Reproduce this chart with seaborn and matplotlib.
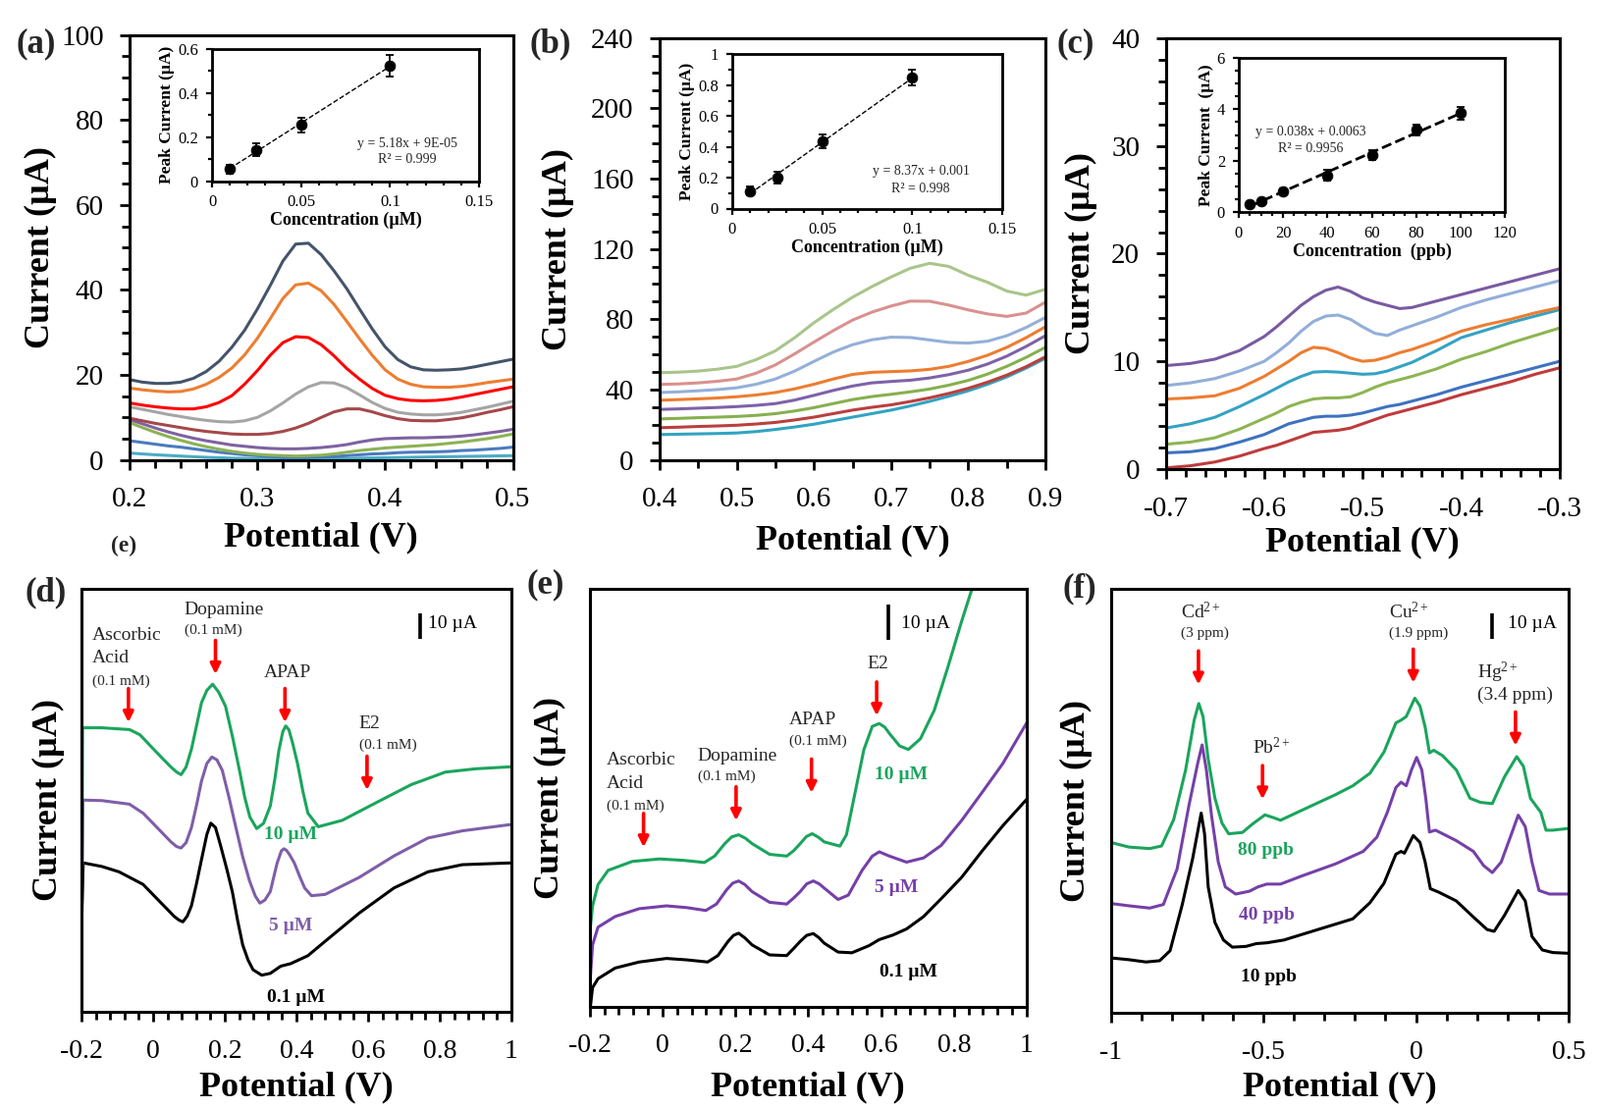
import numpy as np
import pandas as pd
import matplotlib
matplotlib.use("Agg")
import matplotlib.pyplot as plt
import seaborn as sns
from matplotlib.ticker import MultipleLocator, FuncFormatter, NullLocator

sns.set_theme(style="ticks")
plt.rcParams['font.family'] = ['Liberation Serif', 'DejaVu Serif']
plt.rcParams['mathtext.fontset'] = 'custom'
plt.rcParams['mathtext.rm'] = 'Liberation Serif'
plt.rcParams['mathtext.it'] = 'Liberation Serif:italic'
plt.rcParams['mathtext.bf'] = 'Liberation Serif:bold'
plt.rcParams['axes.unicode_minus'] = False

# ---------------- Panel (a) data ----------------
a_V = [0.20, 0.21, 0.22, 0.23, 0.24, 0.25, 0.26, 0.27, 0.28, 0.29, 0.30, 0.31, 0.32, 0.33, 0.34, 0.35,
       0.36, 0.37, 0.38, 0.39, 0.40, 0.41, 0.42, 0.43, 0.44, 0.45, 0.46, 0.47, 0.48, 0.49, 0.50]
a_c1 = [18.9, 18.3, 18.0, 18.0, 18.3, 19.2, 20.8, 23.2, 26.5, 30.5, 35.5, 41.0, 46.8, 50.8, 51.0, 48.3,
        44.5, 40.3, 35.5, 30.8, 26.6, 23.6, 21.9, 21.2, 21.1, 21.2, 21.4, 21.9, 22.5, 23.1, 23.7]
a_c2 = [16.9, 16.5, 16.2, 16.0, 16.1, 16.7, 17.8, 19.4, 21.6, 24.7, 28.6, 33.2, 38.0, 41.2, 41.6, 39.8,
        36.6, 32.6, 28.5, 24.6, 21.2, 19.0, 17.8, 17.2, 17.1, 17.1, 17.3, 17.7, 18.2, 18.6, 19.0]
a_c3 = [13.4, 12.9, 12.5, 12.2, 12.0, 12.0, 12.5, 13.5, 15.1, 17.8, 21.0, 24.6, 27.6, 29.0, 28.8, 27.1,
        24.5, 21.5, 19.0, 16.8, 15.2, 14.4, 14.0, 13.9, 14.0, 14.3, 14.8, 15.4, 16.0, 16.6, 17.2]
a_c4 = [12.5, 11.9, 11.3, 10.7, 10.2, 9.7, 9.3, 9.0, 8.9, 9.2, 10.0, 11.5, 13.4, 15.5, 17.2, 18.2,
        18.1, 17.0, 15.3, 13.5, 12.1, 11.2, 10.8, 10.6, 10.6, 10.8, 11.2, 11.8, 12.4, 13.1, 13.8]
a_c5 = [9.8, 9.2, 8.6, 8.1, 7.6, 7.1, 6.7, 6.4, 6.1, 6.0, 6.0, 6.2, 6.7, 7.5, 8.6, 10.0,
        11.3, 12.0, 12.0, 11.3, 10.4, 9.7, 9.3, 9.2, 9.2, 9.5, 9.9, 10.5, 11.2, 11.8, 12.5]
a_c6 = [9.5, 8.5, 7.5, 6.6, 5.8, 5.1, 4.5, 4.0, 3.5, 3.2, 2.9, 2.7, 2.6, 2.6, 2.7, 2.9,
        3.2, 3.6, 4.2, 4.7, 5.0, 5.1, 5.2, 5.2, 5.3, 5.4, 5.6, 5.9, 6.3, 6.7, 7.2]
a_c7 = [8.8, 7.6, 6.5, 5.5, 4.6, 3.8, 3.1, 2.5, 2.0, 1.6, 1.3, 1.1, 1.0, 0.9, 1.0, 1.1,
        1.4, 1.8, 2.2, 2.5, 2.8, 3.0, 3.2, 3.4, 3.6, 3.9, 4.2, 4.6, 5.0, 5.5, 6.1]
a_c8 = [4.5, 4.1, 3.7, 3.3, 3.0, 2.6, 2.2, 1.8, 1.5, 1.2, 1.0, 0.8, 0.6, 0.6, 0.6, 0.7,
        0.8, 1.0, 1.2, 1.4, 1.5, 1.7, 1.8, 1.85, 1.9, 2.0, 2.2, 2.3, 2.5, 2.7, 3.0]
a_c9 = [1.6, 1.4, 1.2, 1.05, 0.9, 0.75, 0.6, 0.5, 0.4, 0.35, 0.3, 0.3, 0.3, 0.3, 0.3, 0.3,
        0.3, 0.3, 0.4, 0.45, 0.5, 0.55, 0.6, 0.65, 0.7, 0.75, 0.8, 0.85, 0.9, 0.95, 1.0]
a_curves = [a_c1, a_c2, a_c3, a_c4, a_c5, a_c6, a_c7, a_c8, a_c9]
a_colors = ['#44546A', '#ED7D31', '#FF0000', '#A5A5A5', '#A5484B', '#7E62A1', '#8DB255', '#4A7CC0', '#4BACC6']

a_conc = [0.01, 0.025, 0.05, 0.1]
a_peak = [0.056, 0.143, 0.255, 0.524]
a_err = [0.02, 0.03, 0.035, 0.05]

# ---------------- Panel (b) data ----------------
b_V = [0.40, 0.425, 0.45, 0.475, 0.50, 0.525, 0.55, 0.575, 0.60, 0.625, 0.65, 0.675, 0.70,
       0.725, 0.75, 0.775, 0.80, 0.825, 0.85, 0.875, 0.90]
b_c1 = [49.6, 49.9, 50.5, 51.6, 53.2, 57.0, 62.0, 69.5, 78.0, 85.5, 92.5, 98.5, 104.0,
        109.0, 111.8, 110.0, 105.0, 101.0, 96.0, 93.7, 97.0]
b_c2 = [42.9, 43.2, 43.8, 44.7, 46.0, 49.3, 54.0, 60.3, 67.0, 73.5, 79.5, 84.0, 87.5,
        90.3, 90.2, 88.0, 85.3, 83.0, 81.6, 83.5, 89.7]
b_c3 = [38.3, 38.7, 39.3, 40.0, 41.0, 43.0, 46.0, 50.5, 56.0, 61.3, 65.5, 68.3, 69.8,
        69.6, 68.2, 66.8, 66.4, 67.5, 70.6, 75.3, 81.0]
b_c4 = [33.9, 34.3, 34.7, 35.2, 35.9, 36.9, 38.3, 40.4, 43.0, 46.0, 48.6, 49.8, 50.2,
        50.6, 51.5, 53.2, 56.0, 59.5, 64.0, 69.5, 75.7]
b_c5 = [28.7, 29.0, 29.4, 29.8, 30.3, 31.0, 32.0, 34.0, 36.7, 39.5, 42.0, 43.8, 44.6,
        45.3, 46.6, 48.5, 51.0, 54.5, 59.0, 64.5, 70.6]
b_c6 = [23.3, 23.6, 24.0, 24.3, 24.7, 25.3, 26.3, 27.8, 29.7, 32.0, 34.3, 36.0, 37.3,
        38.7, 40.3, 42.5, 45.2, 48.8, 53.2, 58.3, 64.0]
b_c7 = [18.3, 18.6, 19.0, 19.3, 19.7, 20.4, 21.3, 22.7, 24.3, 26.3, 28.3, 29.9, 31.3,
        33.2, 35.3, 37.8, 40.7, 44.2, 48.2, 53.0, 58.6]
b_c8 = [14.4, 14.6, 14.8, 15.0, 15.3, 16.1, 17.3, 18.7, 20.3, 22.3, 24.3, 26.3, 28.3,
        30.7, 33.3, 36.2, 39.3, 43.0, 47.2, 52.2, 57.8]
b_curves = [b_c1, b_c2, b_c3, b_c4, b_c5, b_c6, b_c7, b_c8]
b_colors = ['#A9C58A', '#D9918F', '#94B0D8', '#ED7D31', '#7E62A8', '#86B04F', '#B9403E', '#32A3C2']

b_conc = [0.01, 0.025, 0.05, 0.1]
b_peak = [0.114, 0.200, 0.436, 0.848]
b_err = [0.03, 0.04, 0.045, 0.05]

# ---------------- Panel (c) data ----------------
c_V = [-0.70, -0.675, -0.65, -0.625, -0.60, -0.5875, -0.575, -0.5625, -0.55, -0.5375, -0.525, -0.5125,
       -0.50, -0.4875, -0.475, -0.4625, -0.45, -0.425, -0.40, -0.375, -0.35, -0.325, -0.30]
c_c1 = [9.6, 9.8, 10.2, 11.0, 12.3, 13.2, 14.2, 15.2, 16.0, 16.6, 16.9, 16.5,
        15.9, 15.5, 15.2, 14.9, 15.0, 15.6, 16.2, 16.8, 17.4, 18.0, 18.6]
c_c2 = [7.75, 8.0, 8.4, 9.1, 10.0, 10.8, 11.7, 12.8, 13.7, 14.2, 14.3, 13.9,
        13.2, 12.6, 12.4, 12.9, 13.3, 14.1, 15.0, 15.7, 16.3, 16.9, 17.5]
c_c3 = [6.5, 6.6, 6.8, 7.5, 8.6, 9.3, 10.0, 10.8, 11.3, 11.2, 10.8, 10.3,
        10.0, 10.1, 10.4, 10.8, 11.1, 11.9, 12.8, 13.4, 13.9, 14.5, 15.0]
c_c4 = [3.8, 4.2, 4.8, 5.8, 6.9, 7.5, 8.1, 8.6, 9.0, 9.05, 9.0, 8.9,
        8.8, 8.85, 9.1, 9.5, 9.9, 11.0, 12.2, 12.9, 13.6, 14.2, 14.8]
c_c5 = [2.3, 2.5, 2.9, 3.7, 4.7, 5.2, 5.8, 6.2, 6.5, 6.6, 6.6, 6.7,
        7.1, 7.6, 8.0, 8.3, 8.6, 9.3, 10.2, 10.9, 11.7, 12.4, 13.1]
c_c6 = [1.5, 1.6, 1.9, 2.5, 3.2, 3.7, 4.2, 4.5, 4.8, 4.9, 4.9, 5.0,
        5.2, 5.5, 5.8, 6.0, 6.3, 6.9, 7.6, 8.2, 8.8, 9.4, 10.0]
c_c7 = [0.1, 0.3, 0.65, 1.2, 1.9, 2.2, 2.6, 3.0, 3.4, 3.5, 3.6, 3.8,
        4.2, 4.6, 5.0, 5.3, 5.6, 6.2, 6.9, 7.5, 8.1, 8.8, 9.4]
c_curves = [c_c1, c_c2, c_c3, c_c4, c_c5, c_c6, c_c7]
c_colors = ['#7A5AA2', '#92AEDA', '#ED7D31', '#35A2C3', '#8DB552', '#3E72BF', '#BE3B3D']

c_conc = [5, 10, 20, 40, 60, 80, 100]
c_peak = [0.30, 0.41, 0.82, 1.43, 2.21, 3.20, 3.85]
c_err = [0.05, 0.06, 0.10, 0.20, 0.20, 0.22, 0.25]

# ---------------- Panel (d) data ----------------
d_green_V = [-0.199, -0.197, -0.143, -0.066, -0.037, 0.001, 0.030, 0.049, 0.065, 0.078, 0.092, 0.107, 0.121, 0.135, 0.150,
             0.166, 0.183, 0.202, 0.222, 0.241, 0.256, 0.270, 0.289, 0.308, 0.327, 0.340, 0.351, 0.362, 0.370, 0.379,
             0.389, 0.403, 0.418, 0.432, 0.461, 0.528, 0.624, 0.720, 0.815, 0.90, 1.0]
d_green_I = [38.6, 110.8, 110.8, 110.1, 108.1, 102.5, 98.3, 95.6, 93.6, 92.5, 95.5, 102.5, 111.5, 120.6, 125.4,
             127.8, 124.7, 119.2, 107.0, 94.2, 83.5, 76.0, 71.5, 73.5, 80.3, 91.0, 102.0, 109.3, 111.5, 110.0,
             105.0, 96.9, 86.0, 77.5, 72.2, 74.7, 81.7, 88.6, 93.5, 94.8, 95.6]
d_purple_V = [-0.199, -0.196, -0.143, -0.066, -0.028, 0.011, 0.049, 0.065, 0.078, 0.092, 0.107, 0.121, 0.135, 0.150, 0.164,
              0.178, 0.193, 0.212, 0.231, 0.250, 0.269, 0.285, 0.298, 0.312, 0.327, 0.346, 0.358, 0.365, 0.372, 0.380,
              0.394, 0.410, 0.423, 0.442, 0.480, 0.576, 0.672, 0.767, 0.863, 1.0]
d_purple_I = [37.2, 82.6, 82.4, 81.0, 77.5, 71.9, 66.4, 64.5, 63.9, 66.0, 71.9, 80.5, 90.0, 96.9, 99.4,
              98.3, 94.2, 83.5, 71.9, 60.5, 51.1, 45.2, 42.4, 43.6, 46.9, 58.0, 62.8, 63.6, 63.0, 61.5,
              58.1, 52.5, 48.3, 45.3, 45.8, 52.5, 60.8, 67.8, 70.6, 73.1]
d_black_V = [-0.199, -0.195, -0.143, -0.095, -0.028, 0.020, 0.059, 0.072, 0.083, 0.095, 0.107, 0.121, 0.135, 0.150, 0.161,
             0.174, 0.188, 0.205, 0.221, 0.236, 0.250, 0.265, 0.279, 0.303, 0.327, 0.356, 0.384, 0.432, 0.480, 0.576,
             0.672, 0.767, 0.863, 1.0]
d_black_I = [37.2, 58.1, 56.7, 54.6, 49.7, 42.8, 37.2, 35.8, 35.1, 37.3, 41.4, 50.0, 59.4, 69.2, 73.6,
             71.9, 65.0, 56.0, 46.9, 35.5, 26.1, 20.2, 16.4, 14.3, 15.0, 17.8, 18.8, 21.9, 27.5, 38.6,
             48.3, 54.6, 57.4, 58.1]

# ---------------- Panel (e) data ----------------
e_green_V = [-0.198, -0.192, -0.177, -0.149, -0.083, -0.008, 0.058, 0.115, 0.143, 0.171, 0.190, 0.209, 0.228, 0.246, 0.294,
             0.341, 0.360, 0.378, 0.395, 0.411, 0.428, 0.444, 0.487, 0.505, 0.529, 0.553, 0.576, 0.595, 0.610, 0.623,
             0.651, 0.675, 0.708, 0.746, 0.783, 0.821, 0.849, 0.878]
e_green_I = [22.3, 28.3, 34.3, 38.3, 40.8, 41.5, 41.1, 40.5, 42.3, 45.8, 47.7, 48.3, 47.3, 45.8, 42.8,
             42.3, 43.8, 45.8, 47.8, 48.6, 47.6, 46.3, 45.1, 48.3, 60.3, 72.3, 78.8, 79.6, 78.6, 76.8,
             73.3, 72.3, 75.3, 83.3, 95.3, 108.3, 117.3, 129.3]
e_purple_V = [-0.198, -0.192, -0.177, -0.130, -0.064, 0.011, 0.067, 0.119, 0.148, 0.176, 0.193, 0.209, 0.226, 0.246, 0.294,
              0.341, 0.360, 0.378, 0.396, 0.414, 0.430, 0.444, 0.482, 0.510, 0.548, 0.576, 0.595, 0.623, 0.670, 0.717,
              0.765, 0.821, 0.878, 0.934, 1.0]
e_purple_I = [8.3, 17.3, 22.3, 25.3, 27.5, 28.3, 27.8, 27.0, 28.8, 32.8, 34.7, 35.3, 34.3, 32.3, 29.3,
              28.8, 30.5, 32.3, 34.5, 35.3, 34.5, 33.3, 30.1, 31.3, 38.3, 42.3, 43.5, 42.3, 40.6, 41.8,
              45.3, 52.3, 60.3, 68.3, 79.8]
e_black_V = [-0.198, -0.192, -0.177, -0.130, -0.064, 0.011, 0.067, 0.124, 0.152, 0.180, 0.195, 0.209, 0.226, 0.246, 0.294,
             0.341, 0.360, 0.378, 0.396, 0.414, 0.430, 0.444, 0.482, 0.520, 0.567, 0.595, 0.633, 0.670, 0.717, 0.765,
             0.821, 0.878, 0.934, 1.0]
e_black_I = [0.0, 5.3, 7.8, 10.8, 12.5, 13.5, 13.1, 12.5, 14.3, 18.3, 20.0, 20.6, 19.3, 17.3, 14.5,
             14.3, 16.3, 18.3, 20.0, 20.5, 19.3, 17.8, 15.3, 15.1, 17.1, 18.8, 20.1, 21.8, 25.3, 30.3,
             36.3, 43.8, 50.8, 58.3]

# ---------------- Panel (f) data ----------------
f_green_V = [-1.0, -0.941, -0.873, -0.834, -0.794, -0.755, -0.727, -0.712, -0.698, -0.681, -0.659, -0.636, -0.614, -0.569, -0.535,
             -0.495, -0.467, -0.444, -0.376, -0.264, -0.207, -0.151, -0.105, -0.066, -0.049, -0.032, -0.004, 0.013, 0.030,
             0.044, 0.058, 0.087, 0.132, 0.177, 0.211, 0.250, 0.290, 0.330, 0.352, 0.375, 0.409, 0.426, 0.448, 0.5]
f_green_I = [66.7, 64.9, 64.3, 65.3, 75.7, 95.1, 114.6, 121.1, 116.0, 99.3, 84.0, 74.3, 70.1, 70.6, 74.0,
             77.5, 76.4, 75.4, 79.2, 85.4, 88.9, 93.8, 102.1, 113.5, 114.6, 116.0, 123.2, 120.1, 111.8,
             101.8, 102.8, 100.7, 95.1, 84.0, 82.4, 81.9, 92.4, 100.3, 96.5, 84.0, 78.5, 71.5, 71.5, 72.2]
f_purple_V = [-1.0, -0.941, -0.873, -0.828, -0.783, -0.744, -0.715, -0.701, -0.687, -0.670, -0.648, -0.625, -0.591, -0.546, -0.518,
              -0.489, -0.444, -0.376, -0.264, -0.173, -0.128, -0.094, -0.066, -0.049, -0.032, -0.015, 0.002, 0.019, 0.032,
              0.044, 0.064, 0.132, 0.188, 0.222, 0.250, 0.279, 0.313, 0.335, 0.358, 0.380, 0.403, 0.437, 0.5]
f_purple_I = [42.8, 41.9, 41.0, 42.4, 56.3, 81.3, 97.9, 104.9, 95.1, 77.1, 59.0, 49.3, 46.5, 47.6, 49.3,
              50.4, 50.4, 53.5, 58.3, 63.2, 68.8, 78.5, 88.2, 90.3, 88.9, 95.1, 100.0, 95.1, 84.0,
              70.8, 71.5, 67.4, 63.2, 57.6, 54.9, 59.0, 70.1, 77.4, 72.9, 59.0, 47.9, 46.5, 46.5]
f_black_V = [-1.0, -0.941, -0.885, -0.840, -0.806, -0.766, -0.732, -0.704, -0.693, -0.681, -0.659, -0.631, -0.602, -0.557, -0.523,
             -0.489, -0.433, -0.376, -0.264, -0.207, -0.151, -0.105, -0.066, -0.049, -0.038, -0.009, 0.013, 0.030, 0.047,
             0.075, 0.132, 0.188, 0.233, 0.256, 0.290, 0.335, 0.358, 0.380, 0.414, 0.448, 0.5]
f_black_I = [21.5, 20.8, 19.9, 20.4, 24.3, 42.4, 60.4, 78.2, 70.1, 49.3, 35.4, 28.5, 25.7, 26.0, 27.1,
             27.4, 28.5, 30.6, 34.7, 36.8, 43.1, 50.7, 62.1, 63.2, 62.5, 69.4, 66.7, 59.0, 48.6,
             47.2, 43.8, 37.5, 32.6, 31.9, 38.2, 47.9, 43.8, 29.9, 24.6, 23.6, 23.3]

GREEN = '#1AA55C'
PURPLE_D = '#7E5EA9'
PURPLE = '#7540A8'
RED = '#FF0000'

W, H = 1630, 1129
fig = plt.figure(figsize=(W / 100, H / 100), dpi=100)


def frac(x0, y0, x1, y1):
    return [x0 / W, 1 - y1 / H, (x1 - x0) / W, (y1 - y0) / H]


fmt = FuncFormatter(lambda v, p: '0' if abs(v) < 1e-9 else f'{round(v, 4):g}')


def curve(ax, x, y, color, lw=2.2):
    df = pd.DataFrame({'V': x, 'I': y})
    sns.lineplot(data=df, x='V', y='I', ax=ax, color=color, linewidth=lw,
                 sort=False, estimator=None, legend=False)


def style_main(ax, xlim, ylim, xmaj, xmin, ymaj=None, ymin=None, fs=21):
    ax.set_xlim(*xlim)
    ax.set_ylim(*ylim)
    for s in ['top', 'right', 'left', 'bottom']:
        ax.spines[s].set_linewidth(2.2)
        ax.spines[s].set_color('black')
    ax.xaxis.set_major_locator(MultipleLocator(xmaj))
    ax.xaxis.set_minor_locator(MultipleLocator(xmin))
    ax.xaxis.set_major_formatter(fmt)
    if ymaj is not None:
        ax.yaxis.set_major_locator(MultipleLocator(ymaj))
        ax.yaxis.set_minor_locator(MultipleLocator(ymin))
        ax.yaxis.set_major_formatter(fmt)
    else:
        ax.yaxis.set_major_locator(NullLocator())
        ax.yaxis.set_minor_locator(NullLocator())
    ax.tick_params(which='major', direction='out', length=7, width=2, labelsize=fs, pad=12,
                   color='black', labelcolor='black')
    ax.tick_params(which='minor', direction='out', length=6, width=2, color='black')
    ax.tick_params(axis='x', pad=13)
    ax.set_facecolor('white')


def labels(ax, ycoord, xcoord):
    ax.set_xlabel('Potential (V)', fontsize=26, fontweight='bold', color='black')
    ax.set_ylabel('Current (µA)', fontsize=26, fontweight='bold', color='black')
    ax.xaxis.set_label_coords(0.5, xcoord)
    ax.yaxis.set_label_coords(ycoord, 0.5)


def style_inset(ax, xlim, ylim, xmaj, xmin, ymaj, ymin, xlabel, ylabel):
    ax.set_xlim(*xlim)
    ax.set_ylim(*ylim)
    for s in ['top', 'right', 'left', 'bottom']:
        ax.spines[s].set_linewidth(2.0)
        ax.spines[s].set_color('black')
    ax.xaxis.set_major_locator(MultipleLocator(xmaj))
    ax.xaxis.set_minor_locator(MultipleLocator(xmin))
    ax.yaxis.set_major_locator(MultipleLocator(ymaj))
    ax.yaxis.set_minor_locator(MultipleLocator(ymin))
    ax.xaxis.set_major_formatter(fmt)
    ax.yaxis.set_major_formatter(fmt)
    ax.tick_params(which='both', direction='out', width=1.6, color='black', labelcolor='black')
    ax.tick_params(which='major', length=4, labelsize=12, pad=6)
    ax.tick_params(which='minor', length=3)
    ax.set_xlabel(xlabel, fontsize=13, fontweight='bold', labelpad=1, color='black')
    ax.set_ylabel(ylabel, fontsize=12.5, fontweight='bold', labelpad=2, color='black')
    ax.set_facecolor('white')


def inset_data(ax, conc, peak, err, lw):
    sns.regplot(x=np.array(conc, float), y=np.array(peak, float), ax=ax, scatter=False, ci=None,
                truncate=True, line_kws=dict(color='black', ls='--', lw=lw))
    ax.errorbar(conc, peak, yerr=err, fmt='none', ecolor='black', elinewidth=1.3, capsize=3, capthick=1.3)
    sns.scatterplot(x=conc, y=peak, ax=ax, color='black', s=60, edgecolor='black', zorder=4, legend=False)


def arrow(ax, x, y0, y1):
    ax.annotate('', xy=(x, y1), xytext=(x, y0),
                arrowprops=dict(arrowstyle='-|>', color=RED, lw=2.6, mutation_scale=15,
                                shrinkA=0, shrinkB=0))


def scalebar(ax, x, y0, y1, tx, ty):
    ax.plot([x, x], [y0, y1], color='black', lw=2.6, solid_capstyle='butt')
    ax.text(tx, ty, '10 µA', fontsize=14, ha='left', va='center', color='black')


# ================= (a) =================
ax = fig.add_axes(frac(132, 35.7, 522.5, 468.6))
for yv, col in zip(a_curves[::-1], a_colors[::-1]):
    curve(ax, a_V, yv, col)
style_main(ax, (0.2, 0.5), (0, 100), 0.1, 0.02, 20, 5)
labels(ax, -0.19, -0.146)
ins = fig.add_axes(frac(216, 50, 488, 184.6))
style_inset(ins, (0, 0.15), (0, 0.6), 0.05, 0.01, 0.2, 0.1, 'Concentration (µM)', 'Peak Current (µA)')
inset_data(ins, a_conc, a_peak, a_err, 1.0)
ins.text(0.1097, 0.17, 'y = 5.18x + 9E-05', fontsize=10, ha='center', va='center')
ins.text(0.1097, 0.099, 'R² = 0.999', fontsize=10, ha='center', va='center')

# ================= (b) =================
ax = fig.add_axes(frac(672, 38.6, 1065, 468.6))
for yv, col in zip(b_curves[::-1], b_colors[::-1]):
    curve(ax, b_V, yv, col)
style_main(ax, (0.4, 0.9), (0, 240), 0.1, 0.05, 40, 10)
labels(ax, -0.222, -0.152)
ins = fig.add_axes(frac(746, 55.4, 1021, 212.5))
style_inset(ins, (0, 0.15), (0, 1.0), 0.05, 0.01, 0.2, 0.1, 'Concentration (µM)', 'Peak Current (µA)')
inset_data(ins, b_conc, b_peak, b_err, 1.0)
ins.text(0.1048, 0.239, 'y = 8.37x + 0.001', fontsize=10, ha='center', va='center')
ins.text(0.1048, 0.13, 'R² = 0.998', fontsize=10, ha='center', va='center')

# ================= (c) =================
ax = fig.add_axes(frac(1187.5, 39, 1589, 477.9))
for yv, col in zip(c_curves[::-1], c_colors[::-1]):
    curve(ax, c_V, yv, col)
style_main(ax, (-0.7, -0.3), (0, 40), 0.1, 0.02, 10, 2)
labels(ax, -0.173, -0.132)
ins = fig.add_axes(frac(1262, 59, 1533, 216))
style_inset(ins, (0, 120), (0, 6), 20, 5, 2, 0.5, 'Concentration  (ppb)', 'Peak Current  (µA)')
inset_data(ins, c_conc, c_peak, c_err, 2.0)
ins.text(7.5, 3.1, 'y = 0.038x + 0.0063', fontsize=10, ha='left', va='center')
ins.text(17.6, 2.48, 'R² = 0.9956', fontsize=10, ha='left', va='center')

# ================= (d) =================
ax = fig.add_axes(frac(83, 600, 521, 1031))
curve(ax, d_black_V, d_black_I, 'black')
curve(ax, d_purple_V, d_purple_I, PURPLE_D)
curve(ax, d_green_V, d_green_I, GREEN)
style_main(ax, (-0.2, 1.0), (0, 165), 0.2, 0.04, fs=20)
labels(ax, -0.038, -0.141)
fsn, fss = 14, 11
ax.text(-0.171, 146.9, 'Ascorbic', fontsize=fsn, ha='left', va='center')
ax.text(-0.171, 137.9, 'Acid', fontsize=fsn, ha='left', va='center')
ax.text(-0.171, 128.9, '(0.1 mM)', fontsize=fss, ha='left', va='center')
arrow(ax, -0.069, 126.1, 112.9)
ax.text(0.087, 156.9, 'Dopamine', fontsize=fsn, ha='left', va='center')
ax.text(0.087, 149.0, '(0.1 mM)', fontsize=fss, ha='left', va='center')
arrow(ax, 0.174, 144.9, 131.7)
ax.text(0.308, 132.4, 'APAP', fontsize=fsn, ha='left', va='center')
arrow(ax, 0.368, 126.1, 112.9)
ax.text(0.574, 112.2, 'E2', fontsize=fsn, ha='left', va='center')
ax.text(0.574, 104.2, '(0.1 mM)', fontsize=fss, ha='left', va='center')
arrow(ax, 0.597, 99.7, 86.5)
scalebar(ax, 0.746, 155.3, 145.3, 0.767, 151.5)
ax.text(0.384, 69.2, '10 µM', fontsize=14, fontweight='bold', color=GREEN, ha='center', va='center')
ax.text(0.384, 33.5, '5 µM', fontsize=14, fontweight='bold', color=PURPLE_D, ha='center', va='center')
ax.text(0.399, 5.6, '0.1 µM', fontsize=14, fontweight='bold', color='black', ha='center', va='center')

# ================= (e) =================
ax = fig.add_axes(frac(600.7, 600, 1046, 1025.5))
curve(ax, e_black_V, e_black_I, 'black')
curve(ax, e_purple_V, e_purple_I, PURPLE)
curve(ax, e_green_V, e_green_I, GREEN)
style_main(ax, (-0.2, 1.0), (0, 117.5), 0.2, 0.04, fs=20)
labels(ax, -0.054, -0.155)
ax.text(-0.154, 69.3, 'Ascorbic', fontsize=fsn, ha='left', va='center')
ax.text(-0.154, 62.8, 'Acid', fontsize=fsn, ha='left', va='center')
ax.text(-0.154, 56.5, '(0.1 mM)', fontsize=fss, ha='left', va='center')
arrow(ax, -0.052, 54.3, 44.8)
ax.text(0.096, 70.5, 'Dopamine', fontsize=fsn, ha='left', va='center')
ax.text(0.096, 64.6, '(0.1 mM)', fontsize=fss, ha='left', va='center')
arrow(ax, 0.202, 61.8, 52.3)
ax.text(0.347, 80.5, 'APAP', fontsize=fsn, ha='left', va='center')
ax.text(0.347, 74.6, '(0.1 mM)', fontsize=fss, ha='left', va='center')
arrow(ax, 0.409, 69.6, 60.1)
ax.text(0.562, 96.3, 'E2', fontsize=fsn, ha='left', va='center')
arrow(ax, 0.588, 91.3, 81.8)
scalebar(ax, 0.619, 113.1, 103.1, 0.656, 107.6)
ax.text(0.656, 65.1, '10 µM', fontsize=14, fontweight='bold', color=GREEN, ha='center', va='center')
ax.text(0.642, 33.5, '5 µM', fontsize=14, fontweight='bold', color=PURPLE, ha='center', va='center')
ax.text(0.675, 9.6, '0.1 µM', fontsize=14, fontweight='bold', color='black', ha='center', va='center')

# ================= (f) =================
ax = fig.add_axes(frac(1131.7, 600, 1598, 1032))
curve(ax, f_black_V, f_black_I, 'black')
curve(ax, f_purple_V, f_purple_I, PURPLE)
curve(ax, f_green_V, f_green_I, GREEN)
style_main(ax, (-1.0, 0.5), (0, 166), 0.5, 0.1, fs=20)
labels(ax, -0.040, -0.138)
ax.text(-0.772, 156.9, 'Cd$^{2+}$', fontsize=fsn, ha='left', va='center')
ax.text(-0.772, 148.6, '(3 ppm)', fontsize=fss, ha='left', va='center')
arrow(ax, -0.713, 141.7, 128.5)
ax.text(-0.537, 103.9, 'Pb$^{2+}$', fontsize=fsn, ha='left', va='center')
arrow(ax, -0.503, 96.8, 83.6)
ax.text(-0.088, 156.9, 'Cu$^{2+}$', fontsize=fsn, ha='left', va='center')
ax.text(-0.088, 148.6, '(1.9 ppm)', fontsize=fss, ha='left', va='center')
arrow(ax, -0.009, 142.4, 129.2)
ax.text(0.200, 133.3, 'Hg$^{2+}$', fontsize=fsn, ha='left', va='center')
ax.text(0.200, 124.3, '(3.4 ppm)', fontsize=fsn, ha='left', va='center')
arrow(ax, 0.326, 117.8, 104.6)
scalebar(ax, 0.248, 156.3, 146.3, 0.299, 152.5)
ax.text(-0.492, 63.6, '80 ppb', fontsize=14, fontweight='bold', color=GREEN, ha='center', va='center')
ax.text(-0.489, 38.2, '40 ppb', fontsize=14, fontweight='bold', color=PURPLE, ha='center', va='center')
ax.text(-0.484, 13.9, '10 ppb', fontsize=14, fontweight='bold', color='black', ha='center', va='center')

# ================= panel letters =================
for lab, x, y in [('(a)', 37, 45), ('(b)', 561, 45), ('(c)', 1096, 45),
                  ('(d)', 47, 604), ('(e)', 556, 596), ('(f)', 1100, 600)]:
    fig.text(x / W, 1 - y / H, lab, fontsize=25, fontweight='bold', ha='center', va='center')
fig.text(126 / W, 1 - 556 / H, '(e)', fontsize=17, fontweight='bold', ha='center', va='center')

fig.savefig('out.png', dpi=100, facecolor='white')
